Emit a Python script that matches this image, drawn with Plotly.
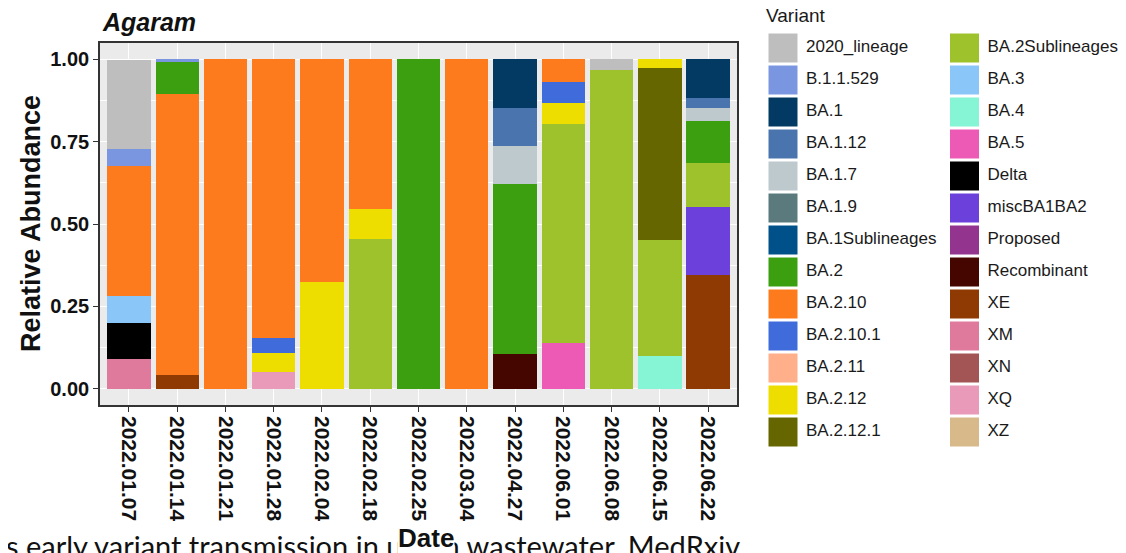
import plotly.graph_objects as go

# ---------------- data ----------------
dates = ["2022.01.07", "2022.01.14", "2022.01.21", "2022.01.28", "2022.02.04",
         "2022.02.18", "2022.02.25", "2022.03.04", "2022.04.27", "2022.06.01",
         "2022.06.08", "2022.06.15", "2022.06.22"]

variants = ["2020_lineage", "B.1.1.529", "BA.1", "BA.1.12", "BA.1.7", "BA.1.9",
            "BA.1Sublineages", "BA.2", "BA.2.10", "BA.2.10.1", "BA.2.11", "BA.2.12",
            "BA.2.12.1", "BA.2Sublineages", "BA.3", "BA.4", "BA.5", "Delta",
            "miscBA1BA2", "Proposed", "Recombinant", "XE", "XM", "XN", "XQ", "XZ"]

colors = ["#BEBEBE", "#7B96E0", "#023A63", "#4A74AD", "#BDC9CC", "#5A7A7E",
          "#00508A", "#3C9F10", "#FD7A1D", "#3F6BDB", "#FFB08A", "#EEDE00",
          "#666600", "#9DC22C", "#8AC6F8", "#85F5D5", "#EC5AB5", "#000000",
          "#6B40DB", "#93358F", "#460600", "#8F3A02", "#E07A9C", "#A35555",
          "#E89AB8", "#D8B98A"]

v_2020_lineage    = [0.272, 0, 0, 0, 0, 0, 0, 0, 0, 0, 0.033, 0, 0]
v_B_1_1_529       = [0.050, 0.008, 0, 0, 0, 0, 0, 0, 0, 0, 0, 0, 0]
v_BA_1            = [0, 0, 0, 0, 0, 0, 0, 0, 0.149, 0, 0, 0, 0.1165]
v_BA_1_12         = [0, 0, 0, 0, 0, 0, 0, 0, 0.115, 0, 0, 0, 0.0325]
v_BA_1_7          = [0, 0, 0, 0, 0, 0, 0, 0, 0.115, 0, 0, 0, 0.0384]
v_BA_1_9          = [0, 0, 0, 0, 0, 0, 0, 0, 0, 0, 0, 0, 0]
v_BA_1Sub         = [0, 0, 0, 0, 0, 0, 0, 0, 0, 0, 0, 0, 0]
v_BA_2            = [0, 0.098, 0, 0, 0, 0, 1.0, 0, 0.516, 0, 0, 0, 0.1266]
v_BA_2_10         = [0.397, 0.854, 1.0, 0.846, 0.677, 0.454, 0, 1.0, 0, 0.069, 0, 0, 0]
v_BA_2_10_1       = [0, 0, 0, 0.0455, 0, 0, 0, 0, 0, 0.063, 0, 0, 0]
v_BA_2_11         = [0, 0, 0, 0, 0, 0, 0, 0, 0, 0, 0, 0, 0]
v_BA_2_12         = [0, 0, 0, 0.058, 0.323, 0.093, 0, 0, 0, 0.065, 0, 0.026, 0]
v_BA_2_12_1       = [0, 0, 0, 0, 0, 0, 0, 0, 0, 0, 0, 0.524, 0]
v_BA_2Sub         = [0, 0, 0, 0, 0, 0.453, 0, 0, 0, 0.666, 0.967, 0.352, 0.135]
v_BA_3            = [0.080, 0, 0, 0, 0, 0, 0, 0, 0, 0, 0, 0, 0]
v_BA_4            = [0, 0, 0, 0, 0, 0, 0, 0, 0, 0, 0, 0.098, 0]
v_BA_5            = [0, 0, 0, 0, 0, 0, 0, 0, 0, 0.137, 0, 0, 0]
v_Delta           = [0.110, 0, 0, 0, 0, 0, 0, 0, 0, 0, 0, 0, 0]
v_miscBA1BA2      = [0, 0, 0, 0, 0, 0, 0, 0, 0, 0, 0, 0, 0.2045]
v_Proposed        = [0, 0, 0, 0, 0, 0, 0, 0, 0, 0, 0, 0, 0]
v_Recombinant     = [0, 0, 0, 0, 0, 0, 0, 0, 0.106, 0, 0, 0, 0]
v_XE              = [0, 0.040, 0, 0, 0, 0, 0, 0, 0, 0, 0, 0, 0.3465]
v_XM              = [0.090, 0, 0, 0, 0, 0, 0, 0, 0, 0, 0, 0, 0]
v_XN              = [0, 0, 0, 0, 0, 0, 0, 0, 0, 0, 0, 0, 0]
v_XQ              = [0, 0, 0, 0.0506, 0, 0, 0, 0, 0, 0, 0, 0, 0]
v_XZ              = [0, 0, 0, 0, 0, 0, 0, 0, 0, 0, 0, 0, 0]

series = [v_2020_lineage, v_B_1_1_529, v_BA_1, v_BA_1_12, v_BA_1_7, v_BA_1_9,
          v_BA_1Sub, v_BA_2, v_BA_2_10, v_BA_2_10_1, v_BA_2_11, v_BA_2_12,
          v_BA_2_12_1, v_BA_2Sub, v_BA_3, v_BA_4, v_BA_5, v_Delta,
          v_miscBA1BA2, v_Proposed, v_Recombinant, v_XE, v_XM, v_XN, v_XQ, v_XZ]

y_ticks = [0, 0.25, 0.5, 0.75, 1.0]

# ---------------- layout helpers ----------------
# the page body has an 8px default margin, so the figure starts at (8, 8)
OFF = 8
W, H = 1126 - OFF, 553 - OFF
def fx(p):
    return (p - OFF) / W
def fy(p):
    return 1 - (p - OFF) / H

FONT = "Liberation Sans, Arial, sans-serif"

fig = go.Figure()

# stacked bars: first factor level on top (ggplot style) -> add in reverse
for name, color, vals in reversed(list(zip(variants, colors, series))):
    fig.add_trace(go.Bar(
        x=dates, y=vals, name=name,
        marker=dict(color=color, line=dict(width=0)),
        showlegend=False,
    ))

# legend drawn as a key in its own subplot (page pixel units)
n_rows = 13
col_x = [783, 964.5]
leg_x = [col_x[i // n_rows] for i in range(len(variants))]
leg_y = [48 + 32 * (i % n_rows) for i in range(len(variants))]
fig.add_trace(go.Scatter(
    x=leg_x, y=leg_y, mode="markers", xaxis="x2", yaxis="y2",
    marker=dict(symbol="square", size=29, color=colors, line=dict(width=0)),
    showlegend=False, hoverinfo="skip", cliponaxis=False,
))
fig.add_trace(go.Scatter(
    x=[x + 23 for x in leg_x], y=leg_y, mode="text", xaxis="x2", yaxis="y2",
    text=variants, textposition="middle right",
    textfont=dict(family=FONT, size=17, color="#1a1a1a"),
    showlegend=False, hoverinfo="skip", cliponaxis=False,
))

fig.update_layout(
    width=W, height=H,
    margin=dict(l=0, r=0, t=0, b=0),
    paper_bgcolor="white",
    plot_bgcolor="#EBEBEB",
    barmode="stack",
    bargap=0.1,
    font=dict(family=FONT, color="#1a1a1a"),
    xaxis=dict(
        domain=[fx(100), fx(737)],
        type="category", categoryorder="array", categoryarray=dates,
        range=[-0.6, len(dates) - 0.4],
        tickangle=90,
        tickfont=dict(family=FONT, size=21, color="#111111", weight="bold"),
        ticks="outside", ticklen=5, tickwidth=1.2, tickcolor="#333333",
        showgrid=True, gridcolor="white", gridwidth=1.3,
        showline=True, linecolor="#333333", linewidth=1.6, mirror=True,
        zeroline=False,
    ),
    yaxis=dict(
        domain=[fy(405), fy(43)],
        range=[-0.05, 1.05],
        tickmode="array", tickvals=y_ticks, tickformat=".2f",
        tickfont=dict(family=FONT, size=20, color="#111111", weight="bold"),
        ticks="outside", ticklen=5, tickwidth=1.2, tickcolor="#333333",
        showgrid=True, gridcolor="white", gridwidth=1.3,
        minor=dict(tickmode="array", tickvals=[0.125, 0.375, 0.625, 0.875],
                   showgrid=True, gridcolor="white", gridwidth=0.6, ticks=""),
        showline=True, linecolor="#333333", linewidth=1.6, mirror=True,
        zeroline=False,
    ),
    xaxis2=dict(domain=[fx(750), 1], range=[750, 1126], visible=False,
                showgrid=False, zeroline=False, fixedrange=True),
    yaxis2=dict(domain=[0, 1], range=[553, OFF], visible=False,
                showgrid=False, zeroline=False, fixedrange=True, anchor="x2"),
)

# white background for the key subplot
fig.add_shape(type="rect", xref="x2 domain", yref="y2 domain",
              x0=0, x1=1, y0=0, y1=1, fillcolor="white",
              line=dict(width=0), layer="below")

fig.add_annotation(text="<b><i>Agaram</i></b>", xref="paper", yref="paper",
                   x=fx(100), y=fy(22), xanchor="left", yanchor="middle",
                   showarrow=False, font=dict(family=FONT, size=25, color="#111111"))
fig.add_annotation(text="<b>Relative Abundance</b>", xref="paper", yref="paper",
                   x=fx(31), y=fy(224), xanchor="center", yanchor="middle",
                   textangle=-90, showarrow=False,
                   font=dict(family=FONT, size=27, color="#111111"))
fig.add_annotation(text="Variant", xref="paper", yref="paper",
                   x=fx(764), y=fy(15), xanchor="left", yanchor="middle",
                   showarrow=False, font=dict(family=FONT, size=19, color="#1a1a1a"))
fig.add_annotation(text="s early variant transmission in urban wastewater. MedRxiv",
                   xref="paper", yref="paper", x=fx(4), y=fy(545),
                   xanchor="left", yanchor="middle", showarrow=False,
                   font=dict(family="Lato, Liberation Sans, sans-serif", size=29, color="#111111"))
fig.add_annotation(text="<b>Date</b>", xref="paper", yref="paper",
                   x=fx(426), y=fy(538), xanchor="center", yanchor="middle",
                   showarrow=False, bgcolor="white", borderpad=0,
                   font=dict(family=FONT, size=26, color="#111111"))

fig.write_html("out.html")
